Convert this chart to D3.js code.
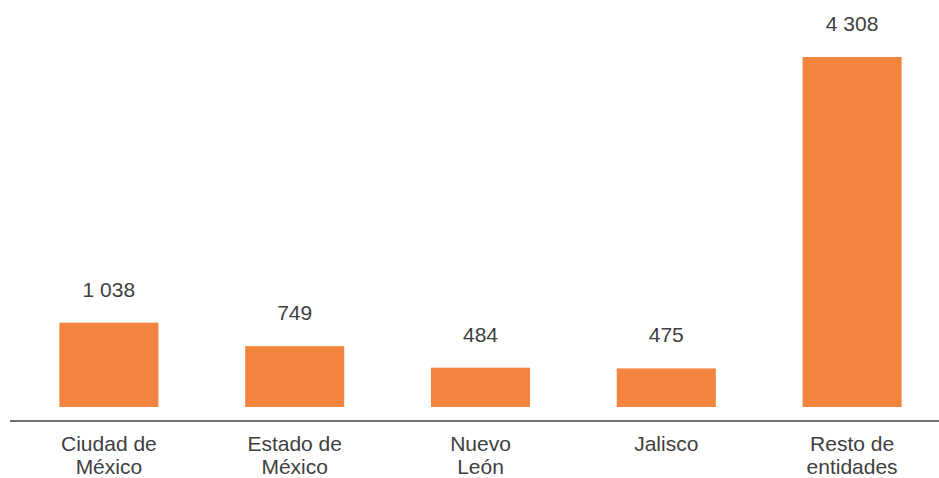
<!DOCTYPE html>
<html>
<head>
<meta charset="utf-8">
<script src="https://cdn.jsdelivr.net/npm/d3@7"></script>
<style>
  body { margin: 0; background: #fff; }
  text { font-family: "Liberation Sans", Arial, sans-serif; fill: #404040; }
</style>
</head>
<body>
<div id="chart"></div>
<script>
// chart data
var categories = ["Ciudad de México", "Estado de México", "Nuevo León", "Jalisco", "Resto de entidades"];
var labelLines = [["Ciudad de", "México"], ["Estado de", "México"], ["Nuevo", "León"], ["Jalisco"], ["Resto de", "entidades"]];
var values = [1038, 749, 484, 475, 4308];

var svgWidth = 939;
var svgHeight = 478;

var svg = d3.select("#chart")
  .append("svg")
  .attr("width", svgWidth)
  .attr("height", svgHeight);

// scales
var x = d3.scaleBand()
  .domain(categories)
  .range([16, 945])
  .paddingInner(0.467)
  .paddingOuter(0.2335);

var y = d3.scaleLinear()
  .domain([0, 4308])
  .range([407, 57]);

// bars
svg.selectAll("rect.bar")
  .data(values)
  .enter()
  .append("rect")
  .attr("class", "bar")
  .attr("x", (d, i) => x(categories[i]))
  .attr("y", d => y(d))
  .attr("width", x.bandwidth())
  .attr("height", d => y(0) - y(d))
  .attr("fill", "#F3843E");

// value labels
svg.selectAll("text.value")
  .data(values)
  .enter()
  .append("text")
  .attr("class", "value")
  .attr("x", (d, i) => x(categories[i]) + x.bandwidth() / 2)
  .attr("y", d => y(d) - 26)
  .attr("text-anchor", "middle")
  .style("font-size", "21px")
  .text(d => d3.format(",")(d).replace(/,/g, " "));

// axis line
svg.append("line")
  .attr("x1", 10)
  .attr("x2", 939)
  .attr("y1", 421)
  .attr("y2", 421)
  .attr("stroke", "#404040")
  .attr("stroke-width", 1.5);

// category labels
var catText = svg.selectAll("text.cat")
  .data(labelLines)
  .enter()
  .append("text")
  .attr("class", "cat")
  .attr("text-anchor", "middle")
  .style("font-size", "21px");

catText.selectAll("tspan")
  .data((d, i) => d.map(line => ({ line: line, i: i })))
  .enter()
  .append("tspan")
  .attr("x", d => x(categories[d.i]) + x.bandwidth() / 2)
  .attr("y", (d, j) => 451 + j * 23)
  .text(d => d.line);
</script>
</body>
</html>
